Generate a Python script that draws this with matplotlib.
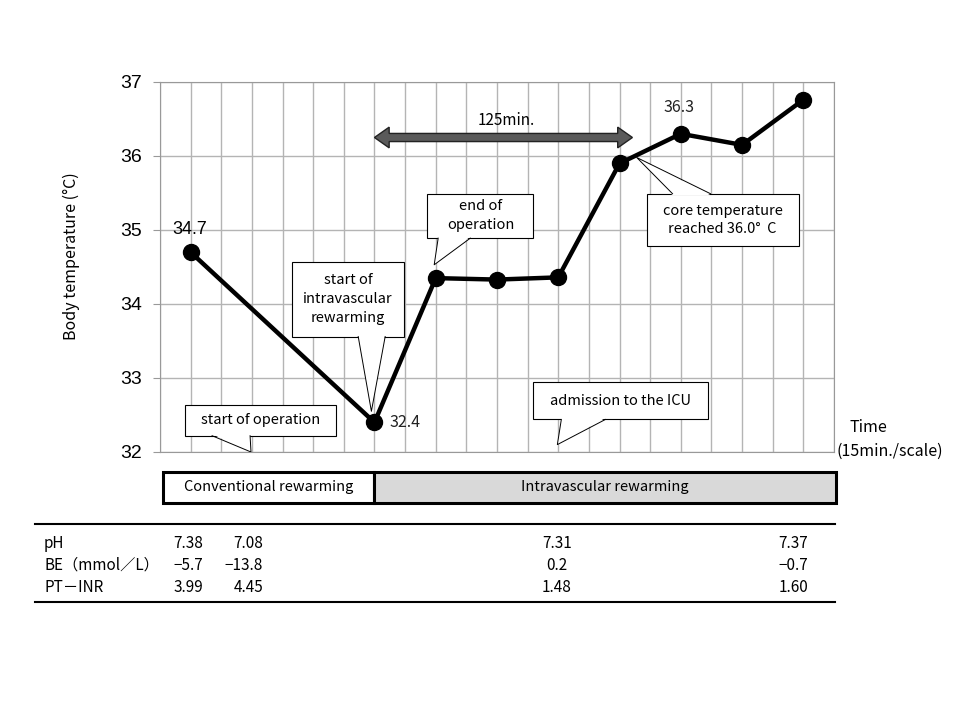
import matplotlib
matplotlib.use("Agg")
import matplotlib.pyplot as plt
from matplotlib.patches import Rectangle, Polygon

# time index (one grid step = 15 min) and body temperature
time_idx = [1, 7, 9, 11, 13, 15, 17, 19, 21]
temp = [34.7, 32.4, 34.35, 34.33, 34.36, 35.9, 36.3, 36.15, 36.76]
y_ticks = [32, 33, 34, 35, 36, 37]

# rewarming phases (start, end on the time axis)
phase_names = ["Conventional rewarming", "Intravascular rewarming"]
phase_start = [0.1, 7.0]
phase_end = [7.0, 22.05]
phase_colors = ["white", "#d9d9d9"]

# lab values table
lab_rows = ["pH", "BE（mmol／L）", "PT－INR"]
lab_cols = [["7.38", "-5.7", "3.99"],
            ["7.08", "-13.8", "4.45"],
            ["7.31", "0.2", "1.48"],
            ["7.37", "-0.7", "1.60"]]

gothic = ["Noto Sans CJK JP", "DejaVu Sans"]
arial = ["Liberation Sans", "DejaVu Sans"]
plt.rcParams['font.family'] = gothic

fig = plt.figure(figsize=(9.6, 7.2), dpi=100)
W, H = 960.0, 720.0

# main temperature chart
ax = fig.add_axes([160 / W, (H - 452) / H, 674 / W, 370 / H])
ax.set_xlim(0, 22)
ax.set_ylim(32, 37)
ax.set_xticks(range(0, 23))
ax.set_xticklabels([])
ax.tick_params(axis='x', length=0)
ax.set_yticks(y_ticks)
ax.set_yticklabels([str(t) for t in y_ticks], fontsize=14, family=arial)
ax.tick_params(axis='y', length=5, color='#999999', pad=8)
ax.grid(True, color='#b4b4b4', lw=1)
for s in ax.spines.values():
    s.set_color('#999999')
ax.set_axisbelow(True)
ax.set_ylabel("Body temperature (°C)", fontsize=11.5)
ax.yaxis.set_label_coords(-0.119, 0.53)

ax.plot(time_idx, temp, color='black', lw=3.2, marker='o', ms=11.5, zorder=5)

ax.text(time_idx[0] - 0.02, temp[0] + 0.31, "34.7", fontsize=13, family=arial,
        ha='center', va='center')
ax.text(time_idx[1] + 0.48, temp[1], "32.4", fontsize=11.5, ha='left', va='center',
        color='#222222')
ax.text(time_idx[6] - 0.05, temp[6] + 0.36, "36.3", fontsize=11.5, ha='center',
        va='center', color='#222222')

# double headed block arrow for 125 min
ay = 36.25
sh, hh, hl = 0.055, 0.14, 0.48
x0, x1 = 7.0, 15.42
arrow = Polygon([(x0, ay), (x0 + hl, ay + hh), (x0 + hl, ay + sh), (x1 - hl, ay + sh),
                 (x1 - hl, ay + hh), (x1, ay), (x1 - hl, ay - hh), (x1 - hl, ay - sh),
                 (x0 + hl, ay - sh), (x0 + hl, ay - hh)], closed=True,
                fc='#5a5a5a', ec='#222222', lw=1, zorder=6)
ax.add_patch(arrow)
ax.text(11.3, 36.48, "125min.", fontsize=11, ha='center', va='center')


def callout(text, x0, x1, y0, y1, base, tip):
    # box with a speech-bubble tail
    ax.add_patch(Rectangle((x0, y0), x1 - x0, y1 - y0, fc='white', ec='black',
                           lw=0.8, zorder=7))
    ax.text((x0 + x1) / 2, (y0 + y1) / 2, text, fontsize=10.5, ha='center',
            va='center', zorder=9, linespacing=1.45)
    yb = base[2]
    inside = 0.02 if yb == y0 else -0.02
    ax.add_patch(Polygon([(base[0], yb + inside), (base[1], yb + inside), tip],
                         closed=True, fc='white', ec='none', zorder=8))
    ax.plot([base[0], tip[0], base[1]], [yb, tip[1], yb], color='black', lw=0.7,
            zorder=8)


callout("start of operation", 0.82, 5.75, 32.22, 32.64, (1.7, 2.94, 32.22), (2.97, 32.0))
callout("start of\nintravascular\nrewarming", 4.31, 7.97, 33.56, 34.57,
        (6.47, 7.35, 33.56), (6.9, 32.55))
callout("end of\noperation", 8.73, 12.19, 34.89, 35.49, (9.08, 10.13, 34.89),
        (8.95, 34.53))
callout("core temperature\nreached 36.0°  C", 15.88, 20.85, 34.78, 35.49,
        (16.73, 17.97, 35.49), (15.56, 35.98))
callout("admission to the ICU", 12.19, 17.88, 32.44, 32.94, (13.1, 14.54, 32.44),
        (12.97, 32.1))

# overlay in pixel coordinates for the texts around the chart
ov = fig.add_axes([0, 0, 1, 1], facecolor='none')
ov.set_xlim(0, W)
ov.set_ylim(H, 0)
ov.axis('off')
ov.text(850, 428, "Time", fontsize=11.5, ha='left', va='center')
ov.text(836, 451, "(15min./scale)", fontsize=11.5, ha='left', va='center')

# phase bar
bar = fig.add_axes([160 / W, (H - 503) / H, 674 / W, 31 / H])
bar.set_xlim(0, 22)
bar.set_ylim(0, 1)
bar.axis('off')
for name, s, e, c in zip(phase_names, phase_start, phase_end, phase_colors):
    bar.add_patch(Rectangle((s, 0), e - s, 1, fc=c, ec='black', lw=2.2,
                            clip_on=False))
    bar.text((s + e) / 2, 0.5, name, fontsize=10.5, ha='center', va='center')

# lab table
ov.plot([35, 835], [524, 524], color='black', lw=1.5)
ov.plot([35, 835], [602, 602], color='black', lw=1.5)
row_y = [543, 565, 587]
col_x = [203, 263, 557, 808]
col_ha = ['right', 'right', 'center', 'right']
for lab, y in zip(lab_rows, row_y):
    ov.text(44, y, lab, fontsize=11, ha='left', va='center')
for vals, x, ha in zip(lab_cols, col_x, col_ha):
    for v, y in zip(vals, row_y):
        ov.text(x, y, v.replace("-", "−"), fontsize=11, ha=ha, va='center')

fig.savefig("out.png", dpi=100)
